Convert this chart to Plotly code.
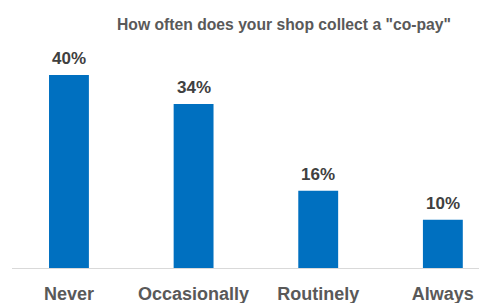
import plotly.graph_objects as go

categories = ["Never", "Occasionally", "Routinely", "Always"]
values = [40, 34, 16, 10]
labels = ["40%", "34%", "16%", "10%"]
title_text = 'How often does your shop collect a "co-pay"'

W, H = 479, 303
ml, mr, mt, mb = 12, 0, 40, 35

fig = go.Figure(go.Bar(
    x=categories, y=values, width=0.32,
    marker=dict(color="#0070C0", line=dict(width=0)),
    hoverinfo="skip",
))

for c, v, t in zip(categories, values, labels):
    fig.add_annotation(x=c, y=v, text=f"<b>{t}</b>", showarrow=False,
                       yanchor="bottom", yshift=5,
                       font=dict(family="Liberation Sans", size=17, color="#404040"))

fig.add_annotation(xref="paper", yref="paper", x=(115 - ml) / (W - ml - mr), y=1 + 16 / (H - mt - mb),
                   xanchor="left", yanchor="middle", showarrow=False,
                   text=f"<b>{title_text}</b>",
                   font=dict(family="Liberation Sans", size=15.7, color="#595959"))

fig.update_layout(
    width=W, height=H,
    margin=dict(l=ml, r=mr, t=mt, b=mb, autoexpand=False),
    paper_bgcolor="white", plot_bgcolor="white",
    showlegend=False,
    xaxis=dict(range=[-0.457, 3.29], showline=True, linecolor="#D9D9D9", linewidth=1,
               ticks="", showgrid=False, ticklabelstandoff=9, automargin=False,
               tickfont=dict(family="Liberation Sans", size=18, color="#595959", weight="bold")),
    yaxis=dict(range=[0, 47.25], visible=False, showgrid=False, zeroline=False, automargin=False),
)

fig.write_html("out.html", config={"displayModeBar": False},
               post_script="document.body.style.margin='0';document.body.style.overflow='hidden';")
